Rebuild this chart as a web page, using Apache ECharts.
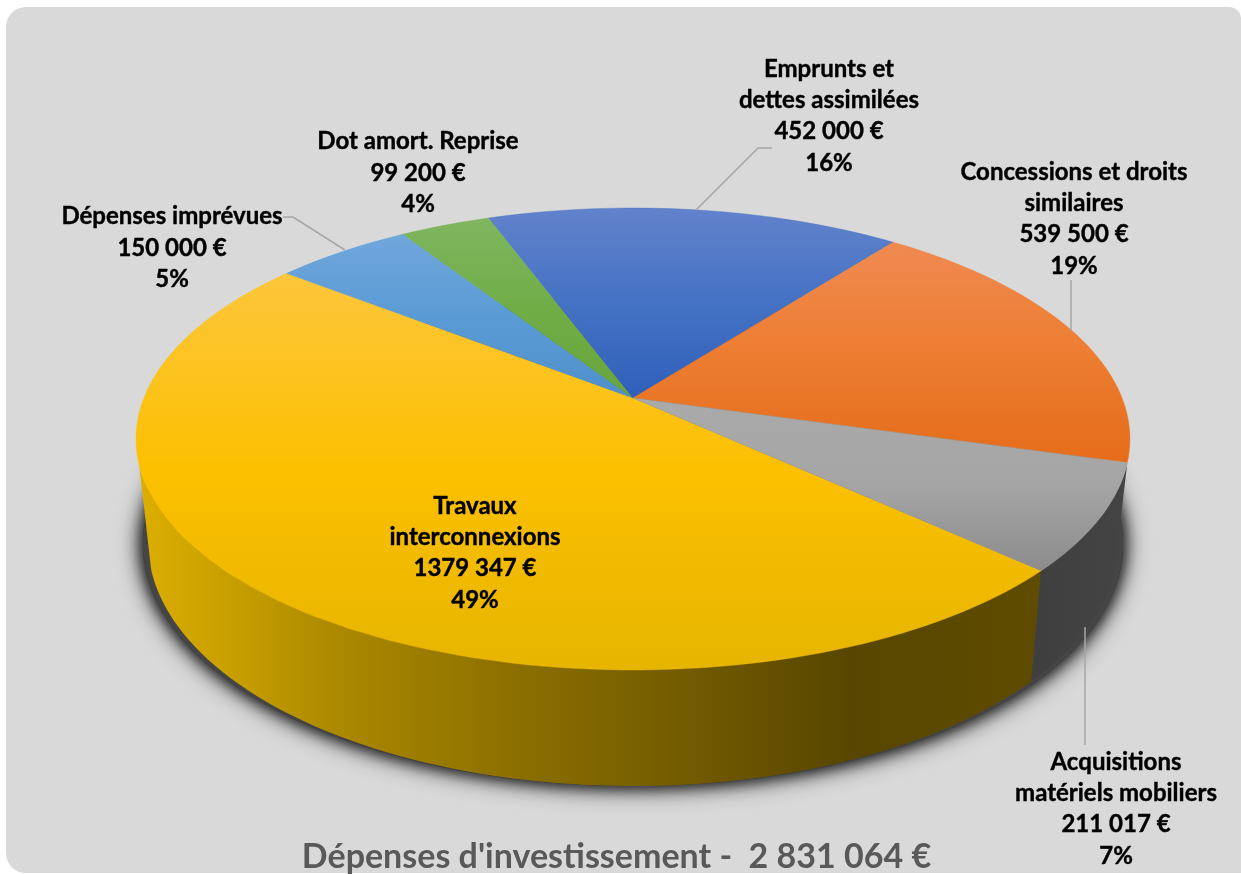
<!DOCTYPE html>
<html><head><meta charset="utf-8">
<style>html,body{margin:0;padding:0;background:#fff}#c{width:1241px;height:874px}</style>
<script src="https://cdn.jsdelivr.net/npm/echarts@6/dist/echarts.min.js"></script>
</head><body><div id="c"></div>
<script>
// --- data ---
const categories = ['Travaux\ninterconnexions','Dépenses imprévues','Dot amort. Reprise','Emprunts et\ndettes assimilées','Concessions et droits\nsimilaires','Acquisitions\nmatériels mobiliers'];
const values = [1379347,150000,99200,452000,539500,211017];
const amountLabels = ['1379 347 €','150 000 €','99 200 €','452 000 €','539 500 €','211 017 €'];
const percentLabels = ['49%','5%','4%','16%','19%','7%'];
const chartTitle = "Dépenses d'investissement -  2 831 064 €";

// --- presentation ---
const startDeg = 42.8;
const persp = 0.1775;
const topFace = {cx:633, cy:398, a:223.7, b:489.1};
const botFace = {cx:633, cy:498.7, a:236.3, b:477.3};
const faceColors = [
 ['#fdc63c','#fcc000','#e6b500'],
 ['#70a7dc','#5b9bd5','#4f90cc'],
 ['#80b660','#70ad47','#68a53c'],
 ['#6282cb','#4472c4','#305fba'],
 ['#f08a52','#ed7d31','#e56c1a'],
 ['#aaaaaa','#a5a5a5','#8c8c8c']
];
const labelAnchors = [[475,553],[172,248],[418,173],[829,116],[1074,219],[1116,809]];
const leaders = [null,[[283,217],[293,217],[345,250]],null,[[772,148],[758,148],[696,210]],[[1071,280],[1071,331]],[[1085,627],[1085,745]]];
const wallBottomFrom = {0:163.4, 5:10};

const total = values.reduce((s,v)=>s+v,0);
const rad = d=>d*Math.PI/180;
function proj(f,deg){const c=Math.cos(rad(deg)),s=Math.sin(rad(deg)),w=1-persp*s;return [f.cx+f.b*c/w,f.cy+f.a*s/w];}
function arc(f,d0,d1){const n=Math.max(4,Math.ceil(Math.abs(d1-d0)/1.5)),p=[];for(let i=0;i<=n;i++)p.push(proj(f,d0+(d1-d0)*i/n));return p;}
function range(i){let a=startDeg;for(let k=0;k<i;k++)a+=values[k]/total*360;return [a,a+values[i]/total*360];}
const seriesData = categories.map((c,i)=>({name:c,value:[values[i],i]}));

function shadowItem(){
  const one=(blur)=>({type:'ellipse',shape:{cx:633,cy:544,rx:490,ry:242},
    style:{fill:'#454545',shadowBlur:blur,shadowColor:'rgba(45,45,45,0.9)'}});
  return {type:'group',children:[one(26),one(18),one(12)]};
}
function wallItem(params,api){
  const i=api.value(1);
  if(!(i in wallBottomFrom))return null;
  const [d0,d1]=range(i);
  let pts,fill;
  if(i===0){
    pts=arc(topFace,d0,wallBottomFrom[0]).concat(arc(botFace,wallBottomFrom[0],d0));
    fill=new echarts.graphic.LinearGradient(0,0,1,0,[
      {offset:0,color:'#dcae00'},{offset:.12,color:'#c49c00'},{offset:.21,color:'#ad8a00'},
      {offset:.4,color:'#8e7100'},{offset:.62,color:'#705900'},{offset:.79,color:'#584600'},{offset:1,color:'#5f4c00'}]);
  }else{
    const lo=startDeg-values[i]/total*360, hi=startDeg;
    pts=arc(topFace,lo,hi).concat(arc(botFace,hi,wallBottomFrom[5]));
    fill=new echarts.graphic.LinearGradient(0,0,1,0,[{offset:0,color:'#3f3f3f'},{offset:1,color:'#444444'}]);
  }
  return {type:'polygon',shape:{points:pts},style:{fill:fill}};
}
function faceItem(params,api){
  const i=api.value(1);
  const [d0,d1]=range(i);
  const pts=[[topFace.cx,topFace.cy]].concat(arc(topFace,d0,d1));
  const c=faceColors[i];
  const fill=new echarts.graphic.LinearGradient(0,0,0,1,[{offset:0,color:c[0]},{offset:.5,color:c[1]},{offset:1,color:c[2]}]);
  return {type:'polygon',shape:{points:pts},style:{fill:fill,stroke:c[1],lineWidth:0.4}};
}
function labelItem(params,api){
  const i=api.value(1);
  const kids=[];
  if(leaders[i])kids.push({type:'polyline',shape:{points:leaders[i]},style:{stroke:'#a6a6a6',lineWidth:1.5,fill:null}});
  kids.push({type:'text',x:labelAnchors[i][0],y:labelAnchors[i][1],
    style:{text:categories[i]+'\n'+amountLabels[i]+'\n'+percentLabels[i],align:'center',verticalAlign:'middle',
      fontFamily:'Lato',fontWeight:'bold',fontSize:24,lineHeight:31.3,fill:'#000',stroke:'#000',lineWidth:0.4}});
  return {type:'group',children:kids};
}
const mk=(name,z,fn)=>({type:'custom',name,coordinateSystem:'none',z,silent:true,animation:false,clip:false,data:seriesData,renderItem:fn});
const chart=echarts.init(document.getElementById('c'),null,{renderer:'canvas'});
chart.setOption({
  animation:false,
  backgroundColor:'#ffffff',
  title:{text:chartTitle,left:611.5,top:835,textAlign:'center',
    textStyle:{fontFamily:'Lato',fontWeight:'bold',fontSize:34,color:'#595959'}},
  graphic:[{type:'rect',z:-10,silent:true,shape:{x:6,y:7,width:1235,height:866,r:[20,12,0,20]},style:{fill:'#d9d9d9'}}],
  series:[
    {type:'custom',name:'shadow',coordinateSystem:'none',z:1,silent:true,clip:false,data:[0],renderItem:shadowItem},
    mk('walls',2,wallItem),
    mk('faces',3,faceItem),
    mk('labels',4,labelItem)
  ]
});
</script></body></html>
